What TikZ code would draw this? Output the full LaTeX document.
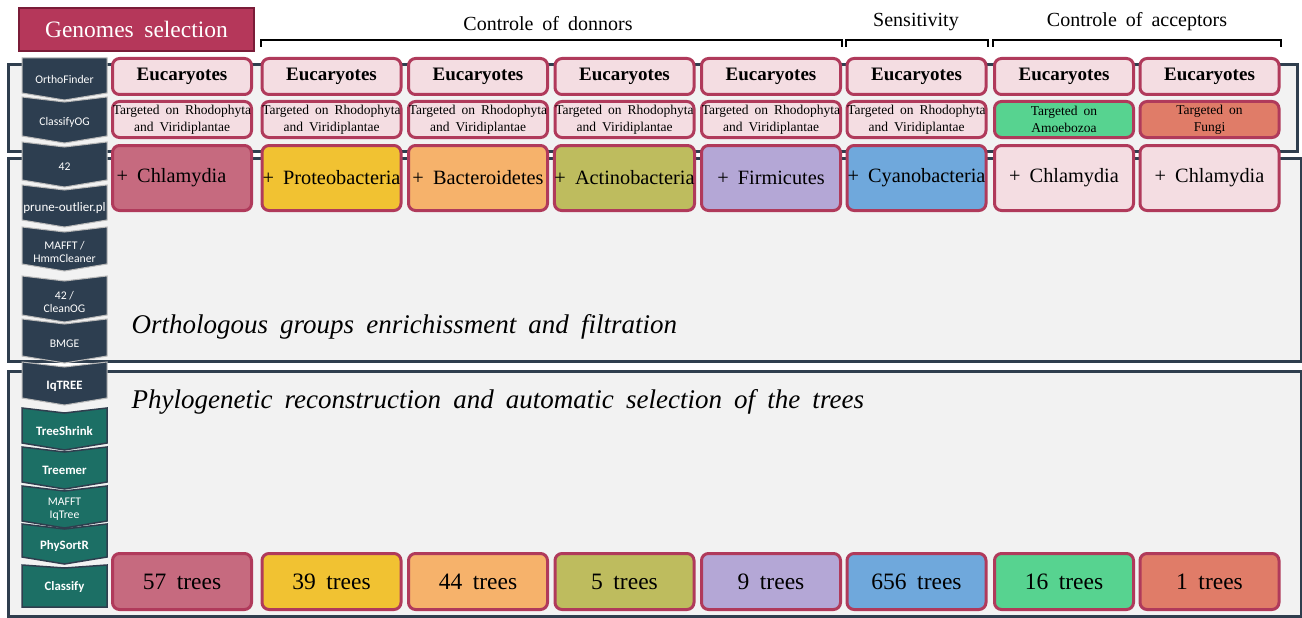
\documentclass[tikz,border=0pt]{standalone}
\usepackage{fontspec}
\setmainfont{Liberation Serif}
\newfontfamily\toolfont{Carlito}
\definecolor{panelline}{HTML}{2F3E4E}
\definecolor{panelfill}{HTML}{F2F2F2}
\definecolor{boxline}{HTML}{B03A5B}
\definecolor{pinkfill}{HTML}{F4DDE2}
\definecolor{selfill}{HTML}{B5375A}
\definecolor{selline}{HTML}{7A1C38}
\definecolor{darktool}{HTML}{2D3E50}
\definecolor{tealtool}{HTML}{1C6F65}
\definecolor{chlamydia}{HTML}{C66A7F}
\definecolor{proteo}{HTML}{F1C232}
\definecolor{bactero}{HTML}{F6B26B}
\definecolor{actino}{HTML}{BEBC5E}
\definecolor{firmi}{HTML}{B4A7D6}
\definecolor{cyano}{HTML}{6FA8DC}
\definecolor{amoebo}{HTML}{57D390}
\definecolor{fungi}{HTML}{E07C68}
\newcommand{\wsp}{\spaceskip=.45em plus .1em\relax}
% chevron step of the pipeline: name, top, bottom, notch, tip, shape style, text style, text
\newcommand{\tool}[8]{%
  \path[#6] (22,#2) -- (64.5,#2+#4) -- (107,#2) -- (107,#3) -- (64.5,#3+#5) -- (22,#3) -- cycle;
  \node[tooltext,#7] (#1) at (64.5,{(#2+#4+#3+#5)/2}) {#8};}

\begin{document}
\begin{tikzpicture}[x=1pt,y=-1pt,
  panel/.style={draw=panelline, fill=panelfill, line width=3pt},
  box/.style={draw=boxline, line width=3pt, rounded corners=7pt, minimum width=139pt, inner sep=0pt, align=center},
  euc/.style={box, fill=pinkfill, minimum height=36pt, font=\fontsize{19}{22}\selectfont\bfseries},
  target/.style={box, fill=pinkfill, minimum height=36pt, font=\fontsize{13.5}{17}\selectfont\wsp},
  bact/.style={box, minimum height=65pt, font=\fontsize{20.3}{24}\selectfont\wsp},
  trees/.style={box, minimum height=56pt, font=\fontsize{23.5}{26}\selectfont\wsp},
  darkstep/.style={fill=darktool, draw=gray!55, line width=1pt},
  tealstep/.style={fill=tealtool, draw=panelline, line width=1.5pt},
  tooltext/.style={text=white, align=center, inner sep=0pt, font=\toolfont\fontsize{11.7}{13}\selectfont},
  bold/.style={font=\toolfont\bfseries\fontsize{12.8}{14}\selectfont},
  selbox/.style={draw=selline, fill=selfill, line width=2pt, minimum width=235pt, minimum height=43pt, text=white, font=\fontsize{23.5}{26}\selectfont\wsp},
  bracket/.style={draw=black, line width=2pt},
  heading/.style={font=\fontsize{20}{24}\selectfont\wsp},
  caption/.style={anchor=west, font=\fontsize{27}{30}\selectfont\itshape\wsp}]
\useasboundingbox (0,0) rectangle (1302,618);
% Panels
\draw[panel] (8,65) rectangle (1297,151);
\draw[panel] (8,158) rectangle (1301,361);
\draw[panel] (8,371) rectangle (1301,616);
% Pipeline steps
\tool{orthofinder}{58}{93}{0}{7}{darkstep}{}{OrthoFinder}
\tool{classifyog}{97}{136}{5}{7}{darkstep}{}{ClassifyOG}
\tool{fortytwo}{142}{180}{5}{7}{darkstep}{}{42}
\tool{prune}{185}{220}{5}{7}{darkstep}{}{{\fontsize{13}{14}\selectfont prune-outlier.pl}}
\tool{mafft}{227}{264}{5}{7}{darkstep}{}{MAFFT /\\HmmCleaner}
\tool{cleanog}{276}{315}{5}{7}{darkstep}{}{42 /\\CleanOG}
\tool{bmge}{319}{356}{5}{7}{darkstep}{}{BMGE}
\tool{iqtree}{362}{398}{5}{7}{darkstep}{bold}{IqTREE}
\tool{treeshrink}{408}{443}{5}{7}{tealstep}{bold}{TreeShrink}
\tool{treemer}{447}{482}{5}{7}{tealstep}{bold}{Treemer}
\tool{mafftiq}{486}{521}{5}{7}{tealstep}{}{MAFFT\\IqTree}
\tool{physortr}{524}{557}{5}{7}{tealstep}{bold}{PhySortR}
\tool{classify}{565}{607}{3}{0}{tealstep}{bold}{Classify}
% Genomes selection
\node[selbox] (genomes) at (136.5,29.5) {Genomes selection};
% Eucaryotes row
\node[euc] (euc1) at (182,76.5) {Eucaryotes};
\node[euc] (euc2) at (331.5,76.5) {Eucaryotes};
\node[euc] (euc3) at (478,76.5) {Eucaryotes};
\node[euc] (euc4) at (624.5,76.5) {Eucaryotes};
\node[euc] (euc5) at (771,76.5) {Eucaryotes};
\node[euc] (euc6) at (916.5,76.5) {Eucaryotes};
\node[euc] (euc7) at (1064,76.5) {Eucaryotes};
\node[euc] (euc8) at (1209.5,76.5) {Eucaryotes};
% Targeted row
\node[target] (tgt1) at (182,119.5) {Targeted on Rhodophyta\\and Viridiplantae};
\node[target] (tgt2) at (331.5,119.5) {Targeted on Rhodophyta\\and Viridiplantae};
\node[target] (tgt3) at (478,119.5) {Targeted on Rhodophyta\\and Viridiplantae};
\node[target] (tgt4) at (624.5,119.5) {Targeted on Rhodophyta\\and Viridiplantae};
\node[target] (tgt5) at (771,119.5) {Targeted on Rhodophyta\\and Viridiplantae};
\node[target] (tgt6) at (916.5,119.5) {Targeted on Rhodophyta\\and Viridiplantae};
\node[target, fill=amoebo] (tgt7) at (1064,119.5) {Targeted on\\Amoebozoa};
\node[target, fill=fungi] (tgt8) at (1209.5,119.5) {Targeted on\\Fungi};
% Added bacteria row
\node[bact, fill=chlamydia] (bac1) at (182,178) {+ Chlamydia\hspace*{21pt}};
\node[bact, fill=proteo] (bac2) at (331.5,178) {+ Proteobacteria};
\node[bact, fill=bactero] (bac3) at (478,178) {+ Bacteroidetes};
\node[bact, fill=actino] (bac4) at (624.5,178) {+ Actinobacteria};
\node[bact, fill=firmi] (bac5) at (771,178) {+ Firmicutes};
\node[bact, fill=cyano] (bac6) at (916.5,178) {+ Cyanobacteria};
\node[bact, fill=pinkfill] (bac7) at (1064,178) {+ Chlamydia};
\node[bact, fill=pinkfill] (bac8) at (1209.5,178) {+ Chlamydia};
% Trees row
\node[trees, fill=chlamydia] (tree1) at (182,581.5) {57 trees};
\node[trees, fill=proteo] (tree2) at (331.5,581.5) {39 trees};
\node[trees, fill=bactero] (tree3) at (478,581.5) {44 trees};
\node[trees, fill=actino] (tree4) at (624.5,581.5) {5 trees};
\node[trees, fill=firmi] (tree5) at (771,581.5) {9 trees};
\node[trees, fill=cyano] (tree6) at (916.5,581.5) {656 trees};
\node[trees, fill=amoebo] (tree7) at (1064,581.5) {16 trees};
\node[trees, fill=fungi] (tree8) at (1209.5,581.5) {1 trees};
% Captions
\node[caption] (ogcap) at (128,327) {Orthologous groups enrichissment and filtration};
\node[caption] (phylocap) at (128,402) {Phylogenetic reconstruction and automatic selection of the trees};
% Brackets and their headings
\node[heading] (donors) at (548,24) {Controle of donnors};
\node[heading] (sensitivity) at (916,22) {Sensitivity};
\node[heading] (acceptors) at (1137,22) {Controle of acceptors};
\draw[bracket] ([yshift=10pt]euc2.north west) -- ([yshift=16.5pt]euc2.north west) -- ([yshift=16.5pt]euc5.north east) -- ([yshift=10pt]euc5.north east);
\draw[bracket] ([yshift=10pt]euc6.north west) -- ([yshift=16.5pt]euc6.north west) -- ([yshift=16.5pt]euc6.north east) -- ([yshift=10pt]euc6.north east);
\draw[bracket] ([yshift=10pt]euc7.north west) -- ([yshift=16.5pt]euc7.north west) -- ([yshift=16.5pt]euc8.north east) -- ([yshift=10pt]euc8.north east);
\end{tikzpicture}
\end{document}
